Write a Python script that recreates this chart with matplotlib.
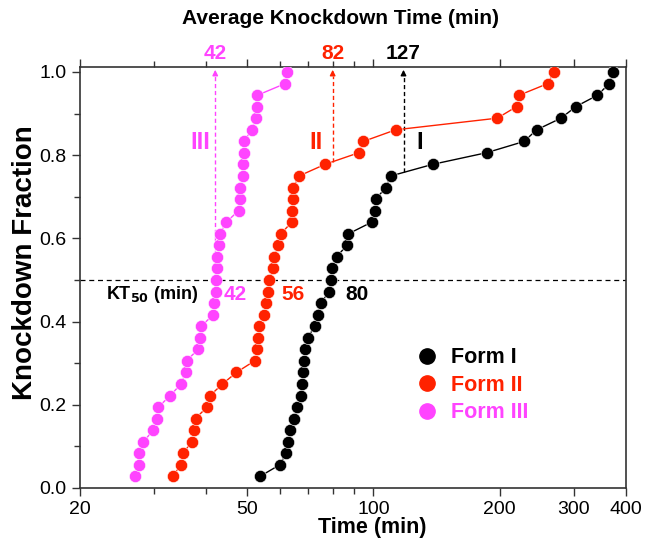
import numpy as np
import matplotlib
matplotlib.use('Agg')
import matplotlib.pyplot as plt
from matplotlib.ticker import FixedLocator, NullFormatter, FixedFormatter
from matplotlib.lines import Line2D

plt.rcParams['font.family'] = ['Liberation Sans', 'DejaVu Sans']

form_names = ['Form I', 'Form II', 'Form III']
roman_labels = ['I', 'II', 'III']
colors = ['#000000', '#ff2200', '#ff44ff']

form1_time = [53.7, 59.9, 61.9, 62.7, 63.3, 64.7, 65.9, 67.1, 67.7, 68.1,
              68.3, 68.7, 69.7, 72.6, 73.7, 74.9, 78.5, 79.1, 79.8, 81.8,
              86.4, 87.2, 99.1, 100.9, 101.3, 107, 110, 138.5, 186.2, 228.6,
              245, 280, 304, 341.8, 364.9, 373]
form2_time = [33.3, 34.8, 35.2, 36.9, 37.4, 37.7, 40.1, 40.8, 43.7, 47.2,
              52.2, 52.7, 53.2, 53.5, 54.9, 55.4, 56.1, 56.5, 57.8, 58.1,
              59.2, 60.2, 63.9, 64.1, 64.2, 64.4, 66.5, 76.7, 92.4, 94.6,
              113, 197.4, 219.6, 222.4, 260.2, 269.5]
form3_time = [27.0, 27.6, 27.7, 28.3, 29.9, 30.5, 30.7, 32.8, 34.8, 35.7,
              35.9, 38.2, 38.6, 38.9, 41.6, 41.8, 42.1, 42.2, 42.3, 42.5,
              42.9, 43.1, 44.6, 47.8, 48.0, 48.0, 49.0, 49.0, 49.2, 49.2,
              51.3, 52.5, 52.7, 52.9, 61.6, 62.4]
fraction = [0.028, 0.056, 0.083, 0.111, 0.139, 0.167, 0.194, 0.222, 0.25, 0.278,
            0.306, 0.333, 0.361, 0.389, 0.417, 0.444, 0.472, 0.5, 0.528, 0.556,
            0.583, 0.611, 0.639, 0.667, 0.694, 0.722, 0.75, 0.778, 0.806, 0.833,
            0.861, 0.889, 0.917, 0.944, 0.972, 1.0]

avg_labels = ['127', '82', '42']
avg_arrow_x = [118, 80, 42]
kt50_labels = ['80', '56', '42']
kt50_text_x = [85.6, 60.5, 44.1]
roman_x = [129, 73, 38.6]
x_ticks = [20, 50, 100, 200, 300, 400]
x_minor = [30, 40, 60, 70, 80, 90]
y_ticks = [0.0, 0.2, 0.4, 0.6, 0.8, 1.0]
y_minor = [0.1, 0.3, 0.5, 0.7, 0.9]

series = [form1_time, form2_time, form3_time]

fig = plt.figure(figsize=(6.45, 5.41), dpi=100)
ax = fig.add_axes([80/645, 1-488/541, 546/645, 421/541])

for t, c in zip(series, colors):
    ax.plot(t, fraction, '-o', color=c, ms=8.8, lw=1.0, mec='white', mew=0.4, zorder=3)

ax.set_xscale('log')
ax.set_xlim(20, 400)
ax.set_ylim(0, 1.012)

ax.xaxis.set_major_locator(FixedLocator(x_ticks))
ax.xaxis.set_major_formatter(FixedFormatter([str(v) for v in x_ticks]))
ax.xaxis.set_minor_locator(FixedLocator(x_minor))
ax.xaxis.set_minor_formatter(NullFormatter())
ax.yaxis.set_major_locator(FixedLocator(y_ticks))
ax.yaxis.set_major_formatter(FixedFormatter([f'{v:.1f}' for v in y_ticks]))
ax.yaxis.set_minor_locator(FixedLocator(y_minor))

ax.tick_params(which='both', direction='out', top=True, labeltop=False, right=False,
               labelsize=14, width=1.0, color='#333333')
ax.tick_params(which='major', length=6)
ax.tick_params(which='minor', length=4)
for s in ax.spines.values():
    s.set_linewidth(1.2)
    s.set_color('#333333')

ax.axhline(0.5, ls=(0, (4, 3)), color='black', lw=0.9, zorder=1)

# arrows for average knockdown time
for xa, lab, t, c in zip(avg_arrow_x, avg_labels, series, colors):
    y0 = np.interp(np.log10(xa), np.log10(t), fraction)
    ax.plot([xa, xa], [y0, 0.99], ls=(0, (3, 2)), color=c, lw=1.0, zorder=2)
    ax.annotate('', xy=(xa, 1.012), xytext=(xa, 0.985),
                arrowprops=dict(arrowstyle='-|>', color=c, lw=1.0, mutation_scale=8),
                annotation_clip=False)
    ax.text(xa, 1.033, lab, transform=ax.get_xaxis_transform(), ha='center', va='center',
            color=c, fontsize=15, fontweight='bold')

for xr, lab, c in zip(roman_x, roman_labels, colors):
    ax.text(xr, 0.83, lab, ha='center', va='center', color=c, fontsize=17, fontweight='bold')

ax.text(23.1, 0.464, r'KT$_{\mathbf{50}}$ (min)', ha='left', va='center', fontsize=13,
        fontweight='bold', color='black')
for xk, lab, c in zip(kt50_text_x, kt50_labels, colors):
    ax.text(xk, 0.464, lab, ha='left', va='center', color=c, fontsize=15, fontweight='bold')

ax.set_xlabel('Time (min)', fontsize=15.5, fontweight='bold', va='center')
ax.xaxis.set_label_coords((372-80)/546, -(527-488)/421)
ax.set_ylabel('Knockdown Fraction', fontsize=20, fontweight='bold', va='center')
ax.yaxis.set_label_coords(-(80-25)/546, (488-263)/421)

fig.text(340/645, 1-18/541, 'Average Knockdown Time (min)', ha='center', va='center',
         fontsize=15, fontweight='bold')

handles = [Line2D([], [], marker='o', ls='none', color=c, ms=11) for c in colors]
ax.legend(handles, form_names, loc='upper left', bbox_to_anchor=(0.6, 0.355), frameon=False,
          prop=dict(weight='bold', size=15.5), labelcolor=colors, handletextpad=0.6,
          labelspacing=0.3, handlelength=1.0, borderaxespad=0)

fig.savefig('out.png', dpi=100)
